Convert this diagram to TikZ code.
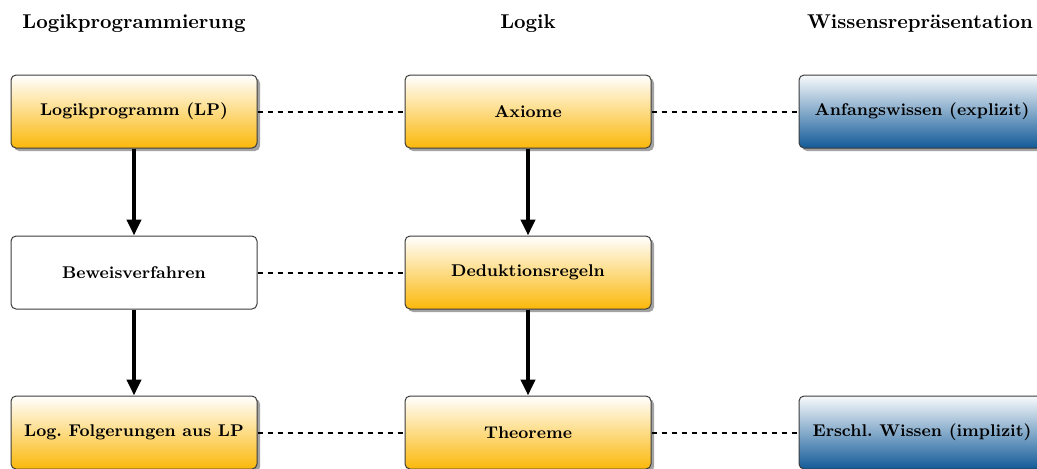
\documentclass[tikz,border=0pt]{standalone}
\usetikzlibrary{shadows,arrows.meta}
\definecolor{lporange}{RGB}{251,184,10}
\definecolor{kblue}{RGB}{18,90,152}
\definecolor{boxborder}{RGB}{60,60,60}
\begin{document}
\begin{tikzpicture}[x=1pt,y=1pt,
  header/.style={font=\bfseries\fontsize{10}{12}\selectfont, anchor=center},
  basebox/.style={rectangle, rounded corners=2.5pt, draw=boxborder, line width=0.5pt,
    minimum width=123pt, minimum height=36.5pt, inner sep=0pt,
    font=\bfseries\fontsize{8.5}{10}\selectfont},
  orangebox/.style={basebox, top color=white, bottom color=lporange,
    drop shadow={shadow xshift=1.5pt, shadow yshift=-1.5pt, fill=black!45, opacity=0.8}},
  bluebox/.style={basebox, top color=white!97!kblue, bottom color=kblue,
    drop shadow={shadow xshift=1.5pt, shadow yshift=-1.5pt, fill=black!45, opacity=0.8}},
  whitebox/.style={basebox, fill=white},
  flow/.style={line width=2pt, -{Triangle[width=7pt,length=8pt]}},
  link/.style={line width=1pt, dash pattern=on 2.5pt off 2.5pt}
]
\useasboundingbox (0,0) rectangle (518.5,-234);

\node[header] (h1) at (67,-12) {Logikprogrammierung};
\node[header] (h2) at (264,-12) {Logik};
\node[header] (h3) at (460,-12) {Wissensrepräsentation};

\node[orangebox] (lp) at (67,-55.75) {Logikprogramm (LP)};
\node[whitebox] (bv) at (67,-136.25) {Beweisverfahren};
\node[orangebox] (lf) at (67,-216.25) {Log.\ Folgerungen aus LP};

\node[orangebox] (ax) at (264,-55.75) {Axiome};
\node[orangebox] (dr) at (264,-136.25) {Deduktionsregeln};
\node[orangebox] (th) at (264,-216.25) {Theoreme};

\node[bluebox] (aw) at (461,-55.75) {Anfangswissen (explizit)};
\node[bluebox] (ew) at (461,-216.25) {Erschl.\ Wissen (implizit)};

\draw[flow] (lp) -- (bv);
\draw[flow] (bv) -- (lf);
\draw[flow] (ax) -- (dr);
\draw[flow] (dr) -- (th);

\draw[link] (lp) -- (ax);
\draw[link] (ax) -- (aw);
\draw[link] (bv) -- (dr);
\draw[link] (lf) -- (th);
\draw[link] (th) -- (ew);
\end{tikzpicture}
\end{document}
